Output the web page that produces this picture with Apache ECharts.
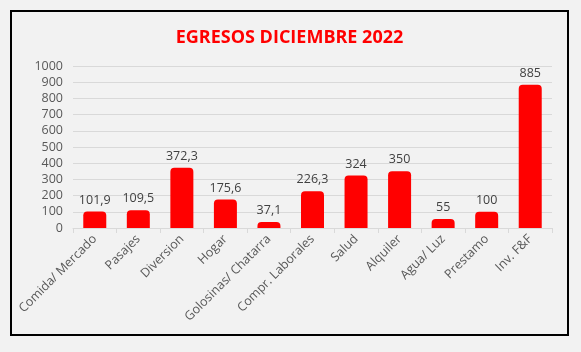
<!DOCTYPE html>
<html>
<head>
<meta charset="utf-8">
<script src="https://cdn.jsdelivr.net/npm/echarts@6/dist/echarts.min.js"></script>
<style>
  html, body { margin: 0; padding: 0; background: #f2f2f2; }
  #chart { position: absolute; left: 10px; top: 10px; width: 555px; height: 322px; border: 2px solid #000; box-sizing: content-box; }
</style>
</head>
<body>
<div id="chart"></div>
<script>
var categorias = ['Comida/ Mercado', 'Pasajes', 'Diversion', 'Hogar', 'Golosinas/ Chatarra',
  'Compr. Laborales', 'Salud', 'Alquiler', 'Agua/ Luz', 'Prestamo', 'Inv. F&F'];
var egresos = [101.9, 109.5, 372.3, 175.6, 37.1, 226.3, 324, 350, 55, 100, 885];
var ejeY = { min: 0, max: 1000, interval: 100 };

var chart = echarts.init(document.getElementById('chart'));
chart.setOption({
  backgroundColor: '#f2f2f2',
  title: {
    text: 'EGRESOS DICIEMBRE 2022',
    left: 'center',
    top: 12,
    textStyle: { color: '#ff0000', fontFamily: 'Open Sans', fontWeight: 'bold', fontSize: 18 }
  },
  grid: { left: 61, right: 15, top: 54, bottom: 106 },
  xAxis: {
    type: 'category',
    data: categorias,
    axisLine: { lineStyle: { color: '#d9d9d9' } },
    axisTick: { show: true, length: 5, lineStyle: { color: '#d9d9d9' } },
    axisLabel: {
      interval: 0,
      rotate: 45,
      margin: 9,
      color: '#595959',
      fontFamily: 'Open Sans',
      fontSize: 12.5
    }
  },
  yAxis: {
    type: 'value',
    min: ejeY.min,
    max: ejeY.max,
    interval: ejeY.interval,
    axisLine: { show: false },
    axisTick: { show: false },
    axisLabel: {
      color: '#595959', fontFamily: 'Open Sans', fontSize: 12.5, margin: 10,
      formatter: function (v) { return String(v); }
    },
    splitLine: { lineStyle: { color: '#d9d9d9' } }
  },
  series: [{
    type: 'bar',
    data: egresos,
    barWidth: 23,
    itemStyle: { color: '#ff0000', borderRadius: [4, 4, 0, 0] },
    label: {
      show: true,
      position: 'top',
      distance: 5,
      color: '#404040',
      fontFamily: 'Open Sans',
      fontSize: 12.5,
      formatter: function (p) { return String(p.value).replace('.', ','); }
    }
  }]
});
</script>
</body>
</html>
